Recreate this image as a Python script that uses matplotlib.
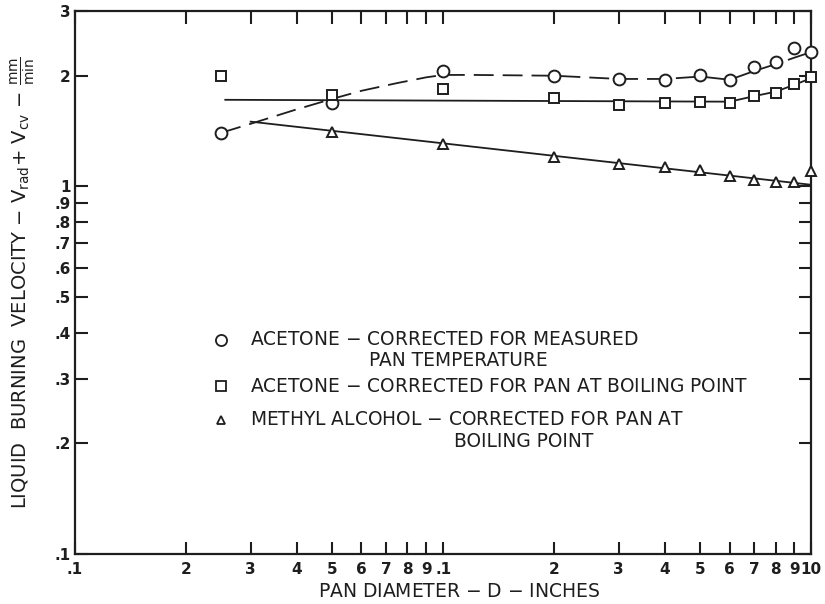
import numpy as np
import matplotlib
matplotlib.use("Agg")
from matplotlib import pyplot as plt
from matplotlib.lines import Line2D

# pan diameter (inches) and burning velocity (mm/min)
acetone_meas_d = [0.25, 0.5, 1, 2, 3, 4, 5, 6, 7, 8, 9, 10]
acetone_meas_v = [1.40, 1.69, 2.06, 2.00, 1.96, 1.95, 2.01, 1.95, 2.11, 2.18, 2.38, 2.32]

acetone_boil_d = [0.25, 0.5, 1, 2, 3, 4, 5, 6, 7, 8, 9, 10]
acetone_boil_v = [2.00, 1.77, 1.84, 1.74, 1.66, 1.69, 1.70, 1.69, 1.76, 1.80, 1.90, 1.98]

methyl_d = [0.5, 1, 2, 3, 4, 5, 6, 7, 8, 9, 10]
methyl_v = [1.41, 1.30, 1.20, 1.15, 1.13, 1.11, 1.07, 1.04, 1.03, 1.03, 1.10]

# faired curves through the points
acetone_meas_fit_d = [0.25, 0.3, 0.4, 0.5, 0.6, 0.75, 0.9, 1, 1.2, 2, 3, 4, 5, 6, 7, 8, 9, 10]
acetone_meas_fit_v = [1.40, 1.48, 1.62, 1.73, 1.82, 1.91, 1.98, 2.01, 2.01, 2.00, 1.96, 1.96,
                      1.99, 1.95, 2.06, 2.15, 2.24, 2.32]
acetone_boil_fit_d = [0.256, 6, 7, 8, 9, 10]
acetone_boil_fit_v = [1.72, 1.70, 1.76, 1.81, 1.89, 1.97]
methyl_fit_d = [0.3, 10]
methyl_fit_v = [1.50, 1.01]

x_ticks = [0.1, 0.2, 0.3, 0.4, 0.5, 0.6, 0.7, 0.8, 0.9,
           1, 2, 3, 4, 5, 6, 7, 8, 9, 10]
x_labels = [".1", "2", "3", "4", "5", "6", "7", "8", "9",
            ".1", "2", "3", "4", "5", "6", "7", "8", "9", "10"]
y_ticks = [0.1, 0.2, 0.3, 0.4, 0.5, 0.6, 0.7, 0.8, 0.9, 1, 2, 3]
y_labels = [".1", ".2", ".3", ".4", ".5", ".6", ".7", ".8", ".9", "1", "2", "3"]

INK = "#1e1e1e"

fig = plt.figure(figsize=(8.25, 6.04), dpi=100)
ax = fig.add_axes([0.0909, 0.0828, 0.8925, 0.899])
ax.set_xscale("log")
ax.set_yscale("log")
ax.set_xlim(0.1, 10)
ax.set_ylim(0.1, 3)

ax.plot(acetone_meas_fit_d, acetone_meas_fit_v, color=INK, lw=1.3, dashes=(11, 5))
ax.plot(acetone_boil_fit_d, acetone_boil_fit_v, color=INK, lw=1.3)
ax.plot(methyl_fit_d, methyl_fit_v, color=INK, lw=1.3)

mk = dict(ls="none", mfc="white", mec=INK, mew=1.4, zorder=3, clip_on=False)
ax.plot(acetone_meas_d, acetone_meas_v, marker="o", ms=8.5, **mk)
ax.plot(acetone_boil_d, acetone_boil_v, marker="s", ms=7.5, **mk)
ax.plot(methyl_d, methyl_v, marker="^", ms=7, **mk)

# axes frame and ticks
for sp in ax.spines.values():
    sp.set_linewidth(1.6)
    sp.set_color(INK)
ax.xaxis.set_major_locator(matplotlib.ticker.FixedLocator(x_ticks))
ax.xaxis.set_major_formatter(matplotlib.ticker.FixedFormatter(x_labels))
ax.xaxis.set_minor_locator(matplotlib.ticker.NullLocator())
ax.yaxis.set_major_locator(matplotlib.ticker.FixedLocator(y_ticks))
ax.yaxis.set_major_formatter(matplotlib.ticker.FixedFormatter(y_labels))
ax.yaxis.set_minor_locator(matplotlib.ticker.NullLocator())
ax.tick_params(which="major", direction="in", top=True, right=True,
               length=9, width=1.5, color=INK, labelsize=11, labelcolor=INK)
ax.tick_params(axis="x", pad=6)
ax.tick_params(axis="y", pad=3)
for t in ax.get_xticklabels() + ax.get_yticklabels():
    t.set_fontweight("semibold")

ax.set_xlabel("PAN DIAMETER $-$ D $-$ INCHES", fontsize=13.5, color=INK)
ax.xaxis.set_label_coords(0.522, -0.052)
ax.set_ylabel(r"LIQUID  BURNING  VELOCITY $-$ V$_{\rm rad}$+ V$_{\rm cv}$ $-$ $\frac{\rm mm}{\rm min}$",
              fontsize=14, color=INK)
ax.yaxis.set_label_coords(-0.052, 0.5)

# key
tx = dict(transform=ax.transAxes, fontsize=13.4, color=INK, va="center", ha="left")
key = [
    ("o", 8, 0.395, "ACETONE $-$ CORRECTED FOR MEASURED"),
    ("s", 7, 0.309, "ACETONE $-$ CORRECTED FOR PAN AT BOILING POINT"),
    ("^", 6, 0.247, "METHYL ALCOHOL $-$ CORRECTED FOR PAN AT"),
]
for m, s, yk, label in key:
    ax.add_line(Line2D([0.198], [yk], transform=ax.transAxes, marker=m, ms=s,
                       mfc="white", mec=INK, mew=1.3, ls="none"))
    ax.text(0.238, yk, label, **tx)
ax.text(0.399, 0.357, "PAN TEMPERATURE", **tx)
ax.text(0.515, 0.207, "BOILING POINT", **tx)

fig.savefig("out.png", dpi=100)
